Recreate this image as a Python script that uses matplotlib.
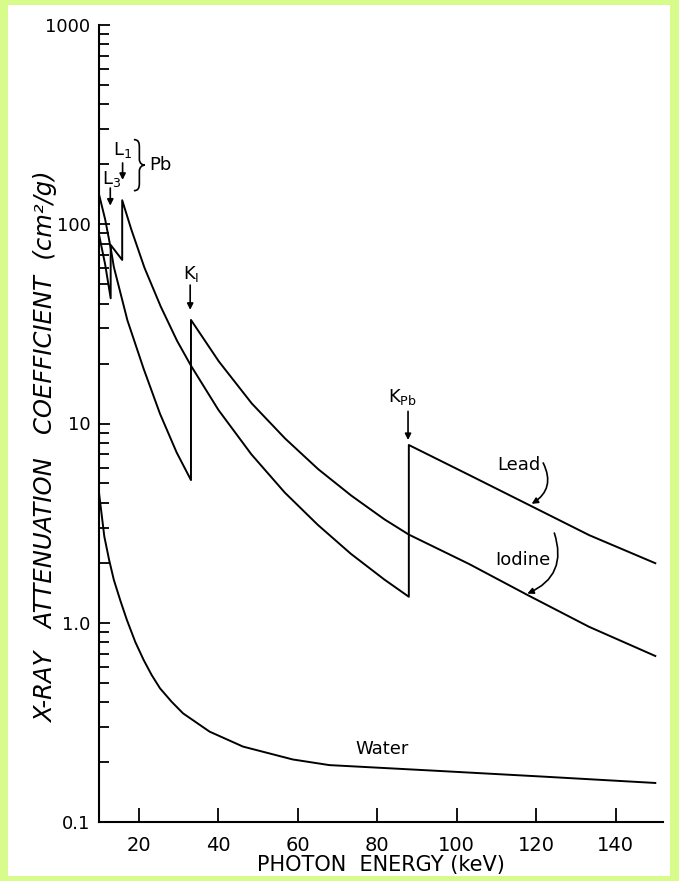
import numpy as np
import matplotlib.pyplot as plt
from matplotlib.patches import Rectangle, PathPatch
from matplotlib.path import Path
from matplotlib.transforms import Affine2D
from matplotlib.ticker import FixedLocator, LogLocator, NullFormatter

# Valores (keV, cm^2/g); energías repetidas = bordes de absorción
lead_E = [10, 11.6, 13.0, 13.0, 15.9, 15.9, 18.2, 21.5, 25.6, 29.7, 33.2,
          40.1, 48.4, 56.8, 65.1, 73.4, 81.8, 88.0, 88.0, 103.3, 118.8, 133.4, 150]
lead_mu = [90, 63, 42.5, 78.7, 66.2, 132, 94, 60.5, 38.6, 26.0, 19.5,
           11.7, 7.0, 4.5, 3.1, 2.22, 1.65, 1.35, 7.8, 5.5, 3.85, 2.75, 1.99]

iodine_E = [10, 11.6, 13.0, 13.8, 17.2, 21.3, 25.4, 29.6, 33.2, 33.2, 40.2,
            48.5, 56.9, 65.2, 73.5, 81.9, 88.0, 103.2, 117.8, 133.3, 150]
iodine_mu = [143, 106, 76, 61, 33.0, 18.8, 11.2, 7.15, 5.2, 33.1, 20.5,
             12.6, 8.4, 5.9, 4.35, 3.3, 2.77, 1.97, 1.38, 0.955, 0.681]

water_E = [10, 11.4, 12.6, 13.8, 15.5, 17.1, 19.2, 21.3, 23.3, 25.4, 28.3,
           31.2, 37.9, 46.3, 58.8, 68, 94.3, 121.7, 150]
water_mu = [4.6, 2.71, 2.07, 1.64, 1.28, 1.03, 0.80, 0.65, 0.547, 0.469, 0.402,
            0.351, 0.284, 0.239, 0.206, 0.193, 0.181, 0.169, 0.157]

x_ticks = [20, 40, 60, 80, 100, 120, 140]
y_ticks = [0.1, 1, 10, 100, 1000]
y_labels = ["0.1", "1.0", "10", "100", "1000"]

W, H = 679, 881
fig = plt.figure(figsize=(W / 100, H / 100), dpi=100, facecolor="#d8fc8c")
fig.patches.append(Rectangle((8 / W, 5 / H), 662 / W, 871 / H, transform=fig.transFigure,
                             facecolor="white", edgecolor="none", zorder=-5))

ax = fig.add_axes([98.75 / W, 1 - 822 / H, 564.5 / W, 797 / H])
ax.patch.set_alpha(0)
ax.set_yscale("log")
ax.set_xlim(10, 152)
ax.set_ylim(0.1, 1000)

kw = dict(color="black", lw=1.4)
ax.plot(lead_E, lead_mu, **kw)
ax.plot(iodine_E, iodine_mu, **kw)
ax.plot(water_E, water_mu, **kw)

for s in ["top", "right"]:
    ax.spines[s].set_visible(False)
for s in ["left", "bottom"]:
    ax.spines[s].set_linewidth(1.5)

ax.xaxis.set_major_locator(FixedLocator(x_ticks))
ax.set_xticklabels([str(t) for t in x_ticks])
ax.yaxis.set_major_locator(FixedLocator(y_ticks))
ax.set_yticklabels(y_labels)
ax.yaxis.set_minor_locator(LogLocator(base=10, subs=np.arange(2, 10)))
ax.yaxis.set_minor_formatter(NullFormatter())
ax.tick_params(axis="x", direction="in", length=10, width=1.3, pad=10, labelsize=14)
ax.tick_params(axis="y", which="major", direction="in", length=8, width=1.3, pad=6, labelsize=13)
ax.tick_params(axis="y", which="minor", direction="in", length=7, width=1.3)

ax.set_xlabel("PHOTON  ENERGY (keV)", fontsize=15, labelpad=0)
ax.set_ylabel("X-RAY   ATTENUATION   COEFFICIENT  (cm²/g)", fontsize=17.5, style="italic")
ax.yaxis.set_label_coords(-0.072, 0.47)

# flechas de los bordes
ap = dict(arrowstyle="-|>", color="black", lw=1.2, mutation_scale=9, shrinkA=0, shrinkB=0)
ax.annotate("", xy=(12.9, 124), xytext=(12.9, 152), arrowprops=ap)
ax.text(13.2, 168, r"L$_3$", fontsize=13, ha="center", va="center")
ax.annotate("", xy=(16.0, 167), xytext=(16.0, 203), arrowprops=ap)
ax.text(16.0, 235, r"L$_1$", fontsize=13, ha="center", va="center")
ax.text(22.8, 198, "Pb", fontsize=13, ha="left", va="center")

ax.annotate("", xy=(33.0, 37.2), xytext=(33.0, 49.5), arrowprops=ap)
ax.text(33.2, 56, r"K$_{\rm I}$", fontsize=13, ha="center", va="center")
ax.annotate("", xy=(87.8, 8.26), xytext=(87.8, 11.5), arrowprops=ap)
ax.text(86.5, 13.6, r"K$_{\rm Pb}$", fontsize=13, ha="center", va="center")

ax.text(115.7, 6.2, "Lead", fontsize=13, ha="center", va="center")
ax.annotate("", xy=(118.9, 3.95), xytext=(121.8, 6.34),
            arrowprops=dict(ap, connectionstyle="arc3,rad=-0.45"))
ax.text(116.8, 2.07, "Iodine", fontsize=13, ha="center", va="center")
ax.annotate("", xy=(117.8, 1.40), xytext=(124.6, 2.82),
            arrowprops=dict(ap, connectionstyle="arc3,rad=-0.45"))
ax.text(81.3, 0.232, "Water", fontsize=13, ha="center", va="center")

# llave } junto a L3/L1
w, h = 11, 51
verts = [(0, 0), (0.4 * w, 0), (0.5 * w, 0.05 * h), (0.5 * w, 0.15 * h),
         (0.5 * w, 0.38 * h),
         (0.5 * w, 0.47 * h), (0.8 * w, 0.5 * h), (w, 0.5 * h),
         (0.8 * w, 0.5 * h), (0.5 * w, 0.53 * h), (0.5 * w, 0.62 * h),
         (0.5 * w, 0.85 * h),
         (0.5 * w, 0.95 * h), (0.4 * w, h), (0, h)]
codes = [Path.MOVETO, Path.CURVE4, Path.CURVE4, Path.CURVE4, Path.LINETO,
         Path.CURVE4, Path.CURVE4, Path.CURVE4, Path.CURVE4, Path.CURVE4, Path.CURVE4,
         Path.LINETO, Path.CURVE4, Path.CURVE4, Path.CURVE4]
verts = [(x - w, -(y - 0.5 * h)) for x, y in verts]
tip = ax.transData.transform((21.6, 198))
tr = Affine2D().translate(*tip)
fig.patches.append(PathPatch(Path(verts, codes), transform=tr, fill=False, lw=1.2,
                             edgecolor="black"))

fig.savefig("out.png", dpi=100, facecolor=fig.get_facecolor())
